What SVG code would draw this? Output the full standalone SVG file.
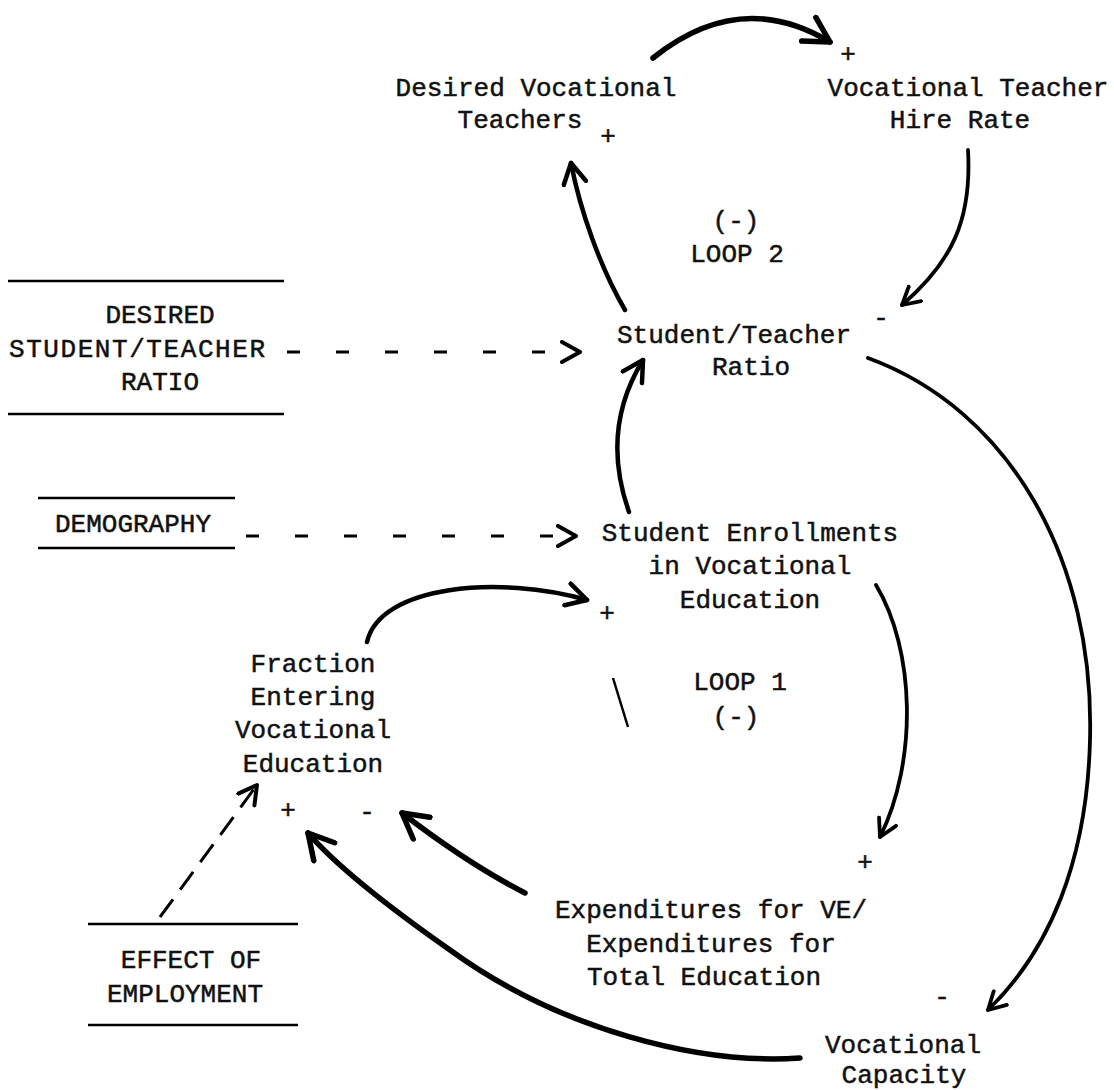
<svg xmlns="http://www.w3.org/2000/svg" width="1114" height="1090" viewBox="0 0 1114 1090">
<defs>
<style>
text{font-family:"Liberation Mono","DejaVu Sans Mono",monospace;font-size:26px;fill:#111;stroke:#111;stroke-width:0.5;text-anchor:middle}
.c{fill:none;stroke:#000;stroke-width:4.5;stroke-linecap:round}
.thin{stroke-width:3.8}
.thick{stroke-width:5.5}
.d{fill:none;stroke:#000;stroke-width:3;stroke-dasharray:13 36}
.rule{stroke:#000;stroke-width:2.5}
</style>
<marker id="ah" viewBox="0 0 12 12" refX="10" refY="6" markerWidth="6" markerHeight="6" orient="auto" markerUnits="strokeWidth">
<path d="M1,1 L10,6 L1,11" fill="none" stroke="#000" stroke-width="2" stroke-linecap="round" stroke-linejoin="round"/>
</marker>
<marker id="ahd" viewBox="0 0 12 12" refX="10" refY="6" markerWidth="8" markerHeight="8" orient="auto" markerUnits="strokeWidth">
<path d="M1,1 L10,6 L1,11" fill="none" stroke="#000" stroke-width="2" stroke-linecap="round" stroke-linejoin="round"/>
</marker>
</defs>
<rect width="1114" height="1090" fill="#fff"/>

<g id="connectors">
<path class="c thick" d="M653,58 Q740,-12 830,42" marker-end="url(#ah)"/>
<path class="c thin" d="M968,150 C972,220 952,262 902,305" marker-end="url(#ah)"/>
<path class="c" d="M625,310 C600,267 580,210 571,163" marker-end="url(#ah)"/>
<path class="d" d="M287,352 L580,352" marker-end="url(#ahd)"/>
<path class="d" d="M246,536 L576,536" marker-end="url(#ahd)"/>
<path class="c" d="M629,512 Q600,430 643,360" marker-end="url(#ah)"/>
<path class="c" d="M367,642 C380,585 500,575 587,600" marker-end="url(#ah)"/>
<path class="c thin" d="M876,585 C915,650 918,760 880,837" marker-end="url(#ah)"/>
<path class="c thin" d="M868,358 C1010,410 1095,560 1090,740 C1087,860 1050,950 988,1010" marker-end="url(#ah)"/>
<path class="c thick" d="M525,893 C490,875 450,850 402,813" marker-end="url(#ah)"/>
<path class="c thick" d="M800,1058 C700,1065 560,1030 450,950 C400,915 340,870 308,833" marker-end="url(#ah)"/>
<path class="d" d="M160,917 L257,785" marker-end="url(#ahd)" style="stroke-dasharray:22 12"/>
<path d="M613,678 L628,727" stroke="#000" stroke-width="2.5"/>
</g>

<g id="desired-vocational-teachers">
<text x="536" y="96">Desired Vocational</text>
<text x="520" y="128">Teachers</text>
<text x="608" y="144">+</text>
</g>
<g id="vocational-teacher-hire-rate">
<text x="968" y="96">Vocational Teacher</text>
<text x="960" y="128">Hire Rate</text>
<text x="848" y="62">+</text>
</g>
<g id="loop2">
<text x="736" y="229">(-)</text>
<text x="737" y="262">LOOP 2</text>
</g>
<g id="desired-student-teacher-ratio">
<line class="rule" x1="8" y1="281" x2="284" y2="281"/>
<text x="160" y="323">DESIRED</text>
<text x="137" y="357" textLength="256" lengthAdjust="spacing">STUDENT/TEACHER</text>
<text x="160" y="390">RATIO</text>
<line class="rule" x1="8" y1="414" x2="284" y2="414"/>
</g>
<g id="student-teacher-ratio">
<text x="734" y="343">Student/Teacher</text>
<text x="751" y="375">Ratio</text>
<text x="881" y="326">-</text>
</g>
<g id="demography">
<line class="rule" x1="38" y1="498" x2="235" y2="498"/>
<text x="133" y="532">DEMOGRAPHY</text>
<line class="rule" x1="38" y1="548" x2="235" y2="548"/>
</g>
<g id="student-enrollments">
<text x="750" y="541">Student Enrollments</text>
<text x="750" y="574">in Vocational</text>
<text x="750" y="608">Education</text>
<text x="607" y="621">+</text>
</g>
<g id="loop1">
<text x="740" y="690">LOOP 1</text>
<text x="736" y="725">(-)</text>
</g>
<g id="fraction-entering">
<text x="313" y="672">Fraction</text>
<text x="313" y="705">Entering</text>
<text x="313" y="738">Vocational</text>
<text x="313" y="772">Education</text>
<text x="288" y="818">+</text>
<text x="367" y="820">-</text>
</g>
<g id="expenditures">
<text x="711" y="918">Expenditures for VE/</text>
<text x="711" y="952">Expenditures for</text>
<text x="704" y="985">Total Education</text>
<text x="865" y="870">+</text>
</g>
<g id="effect-of-employment">
<line class="rule" x1="88" y1="924" x2="298" y2="924"/>
<text x="191" y="968">EFFECT OF</text>
<text x="185" y="1002">EMPLOYMENT</text>
<line class="rule" x1="88" y1="1025" x2="298" y2="1025"/>
</g>
<g id="vocational-capacity">
<text x="903" y="1053">Vocational</text>
<text x="904" y="1083">Capacity</text>
<text x="942" y="1005">-</text>
</g>
</svg>
